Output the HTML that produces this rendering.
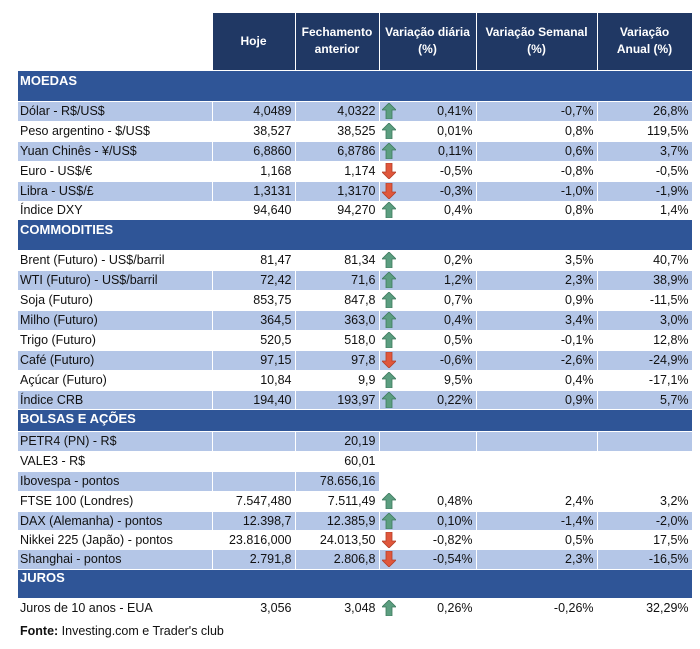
<!DOCTYPE html>
<html><head><meta charset="utf-8"><style>
body{margin:0;background:#fff;width:700px;height:649px;overflow:hidden;font-family:"Liberation Sans",sans-serif;font-size:12.5px;color:#111}
table{position:absolute;left:18px;top:13px;width:674px;border-collapse:collapse;table-layout:fixed}
td{padding:0 3px;white-space:nowrap;border-right:1px solid #fff;border-bottom:1px solid #fff;text-align:right;overflow:hidden;line-height:14px}
td:first-child{text-align:left;padding-left:2px}
td.a{border-right:none;padding:0;text-align:left}
tr.h td{background:#203864;color:#fff;font-weight:bold;text-align:center;font-size:12px;line-height:17px;white-space:normal;padding:0 1px}
tr.h td:first-child{background:#fff}
tr.s td{background:#2f5597;color:#fff;font-weight:bold;vertical-align:top;text-align:left;padding-top:3px;font-size:13px}
tr.b td{background:#b4c6e7}
svg{display:block;margin-left:2px}
.f{position:absolute;left:20px;top:624px}
</style></head><body>
<svg width="0" height="0" style="position:absolute"><defs>
<symbol id="u" viewBox="0 0 14 16"><polygon points="7,0 14,7 10,7 10,16 4,16 4,7 0,7" fill="#5c9e80" stroke="#3e7a5e" stroke-width="0.8"/></symbol>
<symbol id="d" viewBox="0 0 14 16"><polygon points="7,16 14,9 10,9 10,0 4,0 4,9 0,9" fill="#e0573c" stroke="#b33f28" stroke-width="0.8"/></symbol>
</defs></svg>
<table>
<colgroup><col style="width:194px"><col style="width:83px"><col style="width:84px"><col style="width:18px"><col style="width:79px"><col style="width:121px"><col style="width:95px"></colgroup>
<tr class="h" style="height:57px"><td></td><td>Hoje</td><td>Fechamento<br>anterior</td><td colspan="2">Variação diária<br>(%)</td><td>Variação Semanal<br>(%)</td><td>Variação<br>Anual (%)</td></tr>
<tr class="s" style="height:31px"><td colspan="7">MOEDAS</td></tr>
<tr class="b" style="height:20px"><td>Dólar - R$/US$</td><td>4,0489</td><td>4,0322</td><td class="a"><svg width="14" height="16"><use href="#u"/></svg></td><td>0,41%</td><td>-0,7%</td><td>26,8%</td></tr>
<tr style="height:20px"><td>Peso argentino - $/US$</td><td>38,527</td><td>38,525</td><td class="a"><svg width="14" height="16"><use href="#u"/></svg></td><td>0,01%</td><td>0,8%</td><td>119,5%</td></tr>
<tr class="b" style="height:20px"><td>Yuan Chinês - ¥/US$</td><td>6,8860</td><td>6,8786</td><td class="a"><svg width="14" height="16"><use href="#u"/></svg></td><td>0,11%</td><td>0,6%</td><td>3,7%</td></tr>
<tr style="height:20px"><td>Euro - US$/€</td><td>1,168</td><td>1,174</td><td class="a"><svg width="14" height="16"><use href="#d"/></svg></td><td>-0,5%</td><td>-0,8%</td><td>-0,5%</td></tr>
<tr class="b" style="height:20px"><td>Libra - US$/£</td><td>1,3131</td><td>1,3170</td><td class="a"><svg width="14" height="16"><use href="#d"/></svg></td><td>-0,3%</td><td>-1,0%</td><td>-1,9%</td></tr>
<tr style="height:18px"><td>Índice DXY</td><td>94,640</td><td>94,270</td><td class="a"><svg width="14" height="16"><use href="#u"/></svg></td><td>0,4%</td><td>0,8%</td><td>1,4%</td></tr>
<tr class="s" style="height:31px"><td colspan="7">COMMODITIES</td></tr>
<tr style="height:20px"><td>Brent (Futuro) - US$/barril</td><td>81,47</td><td>81,34</td><td class="a"><svg width="14" height="16"><use href="#u"/></svg></td><td>0,2%</td><td>3,5%</td><td>40,7%</td></tr>
<tr class="b" style="height:20px"><td>WTI (Futuro) - US$/barril</td><td>72,42</td><td>71,6</td><td class="a"><svg width="14" height="16"><use href="#u"/></svg></td><td>1,2%</td><td>2,3%</td><td>38,9%</td></tr>
<tr style="height:20px"><td>Soja (Futuro)</td><td>853,75</td><td>847,8</td><td class="a"><svg width="14" height="16"><use href="#u"/></svg></td><td>0,7%</td><td>0,9%</td><td>-11,5%</td></tr>
<tr class="b" style="height:20px"><td>Milho (Futuro)</td><td>364,5</td><td>363,0</td><td class="a"><svg width="14" height="16"><use href="#u"/></svg></td><td>0,4%</td><td>3,4%</td><td>3,0%</td></tr>
<tr style="height:20px"><td>Trigo (Futuro)</td><td>520,5</td><td>518,0</td><td class="a"><svg width="14" height="16"><use href="#u"/></svg></td><td>0,5%</td><td>-0,1%</td><td>12,8%</td></tr>
<tr class="b" style="height:20px"><td>Café (Futuro)</td><td>97,15</td><td>97,8</td><td class="a"><svg width="14" height="16"><use href="#d"/></svg></td><td>-0,6%</td><td>-2,6%</td><td>-24,9%</td></tr>
<tr style="height:20px"><td>Açúcar (Futuro)</td><td>10,84</td><td>9,9</td><td class="a"><svg width="14" height="16"><use href="#u"/></svg></td><td>9,5%</td><td>0,4%</td><td>-17,1%</td></tr>
<tr class="b" style="height:19px"><td>Índice CRB</td><td>194,40</td><td>193,97</td><td class="a"><svg width="14" height="16"><use href="#u"/></svg></td><td>0,22%</td><td>0,9%</td><td>5,7%</td></tr>
<tr class="s" style="height:22px"><td colspan="7" style="padding-top:2px">BOLSAS E AÇÕES</td></tr>
<tr class="b" style="height:20px"><td>PETR4 (PN) - R$</td><td></td><td>20,19</td><td class="a"></td><td></td><td></td><td></td></tr>
<tr style="height:20px"><td>VALE3 - R$</td><td></td><td>60,01</td><td class="a"></td><td></td><td></td><td></td></tr>
<tr class="b" style="height:20px"><td>Ibovespa - pontos</td><td></td><td>78.656,16</td><td class="a" style="background:#fff"></td><td style="background:#fff"></td><td style="background:#fff"></td><td style="background:#fff"></td></tr>
<tr style="height:20px"><td>FTSE 100 (Londres)</td><td>7.547,480</td><td>7.511,49</td><td class="a"><svg width="14" height="16"><use href="#u"/></svg></td><td>0,48%</td><td>2,4%</td><td>3,2%</td></tr>
<tr class="b" style="height:19px"><td>DAX (Alemanha) - pontos</td><td>12.398,7</td><td>12.385,9</td><td class="a"><svg width="14" height="16"><use href="#u"/></svg></td><td>0,10%</td><td>-1,4%</td><td>-2,0%</td></tr>
<tr style="height:19px"><td>Nikkei 225 (Japão) - pontos</td><td>23.816,000</td><td>24.013,50</td><td class="a"><svg width="14" height="16"><use href="#d"/></svg></td><td>-0,82%</td><td>0,5%</td><td>17,5%</td></tr>
<tr class="b" style="height:20px"><td>Shanghai - pontos</td><td>2.791,8</td><td>2.806,8</td><td class="a"><svg width="14" height="16"><use href="#d"/></svg></td><td>-0,54%</td><td>2,3%</td><td>-16,5%</td></tr>
<tr class="s" style="height:29px"><td colspan="7" style="padding-top:1px">JUROS</td></tr>
<tr style="height:20px"><td>Juros de 10 anos - EUA</td><td>3,056</td><td>3,048</td><td class="a"><svg width="14" height="16"><use href="#u"/></svg></td><td>0,26%</td><td>-0,26%</td><td>32,29%</td></tr>
</table>
<div class="f"><b>Fonte:</b> Investing.com e Trader's club</div>
</body></html>
